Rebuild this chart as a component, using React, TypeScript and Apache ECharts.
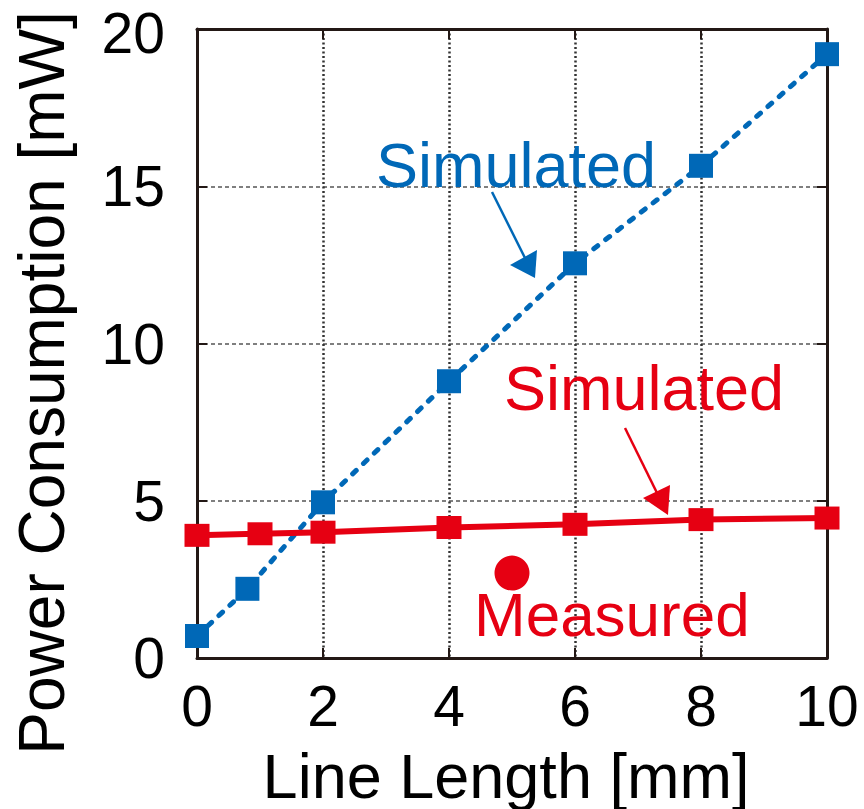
import React, { useEffect, useRef } from "react";
import * as echarts from "echarts";

const blueX = [0, 0.8, 2, 4, 6, 8, 10];
const blueY = [0.7, 2.2, 4.95, 8.8, 12.55, 15.65, 19.2];
const redX = [0, 1, 2, 4, 6, 8, 10];
const redY = [3.9, 3.95, 4.0, 4.15, 4.25, 4.4, 4.45];
const measuredX = [5];
const measuredY = [2.7];
const xTicks = [0, 2, 4, 6, 8, 10];
const yTicks = [0, 5, 10, 15, 20];
const xTitle = "Line Length [mm]";
const yTitle = "Power Consumption [mW]";

const BLUE = "#0068B7";
const RED = "#E60012";
const FONT = "'Liberation Sans', Arial, sans-serif";

export default function App() {
  const ref = useRef<HTMLDivElement>(null);
  useEffect(() => {
    if (!ref.current) return;
    const chart = echarts.init(ref.current, null, { renderer: "svg" });
    const frame = { lineStyle: { color: "#231815", width: 3 } };
    const tick = { inside: true, length: 10, lineStyle: { color: "#231815", width: 2 } };
    const xMin = xTicks[0], xMax = xTicks[xTicks.length - 1];
    const yMin = yTicks[0], yMax = yTicks[yTicks.length - 1];
    const option: any = {
      animation: false,
      backgroundColor: "#ffffff",
      textStyle: { fontFamily: FONT },
      grid: { left: 197, right: 37, top: 29, bottom: 151, outerBoundsMode: "none", containLabel: false },
      xAxis: [
        {
          type: "value", min: xMin, max: xMax, interval: 2, position: "bottom",
          name: xTitle, nameLocation: "middle", nameGap: 86,
          nameTextStyle: { fontSize: 63, color: "#000", fontFamily: FONT, padding: [0, 12, 0, 0] },
          axisLine: { show: true, onZero: false, ...frame },
          axisTick: tick,
          axisLabel: { fontSize: 57, lineHeight: 56, color: "#000", margin: 20, fontFamily: FONT },
          splitLine: { show: true, lineStyle: { color: "#333", width: 2.5, type: [2, 2.5] } },
        },
        {
          type: "value", min: xMin, max: xMax, interval: 2, position: "top",
          axisLine: { show: true, onZero: false, ...frame },
          axisTick: tick, axisLabel: { show: false }, splitLine: { show: false },
        },
      ],
      yAxis: [
        {
          type: "value", min: yMin, max: yMax, interval: 5, position: "left",
          axisLine: { show: true, onZero: false, ...frame },
          axisTick: tick,
          axisLabel: {
            fontSize: 57, lineHeight: 56, color: "#000", margin: 32, fontFamily: FONT,
            formatter: (v: number) => (v === yMax ? `{top|${v}}` : `${v}`),
            rich: { top: { fontSize: 57, lineHeight: 56, color: "#000", fontFamily: FONT, padding: [8, 0, 0, 0] } },
          },
          splitLine: { show: true, lineStyle: { color: "#555", width: 1.5, type: [4, 3] } },
        },
        {
          type: "value", min: yMin, max: yMax, interval: 5, position: "right",
          axisLine: { show: true, onZero: false, ...frame },
          axisTick: tick, axisLabel: { show: false }, splitLine: { show: false },
        },
      ],
      series: [
        {
          type: "line", name: "Simulated (blue)", xAxisIndex: 0, yAxisIndex: 0, clip: false,
          data: blueX.map((x, i) => [x, blueY[i]]),
          symbol: "rect", symbolSize: 24,
          itemStyle: { color: BLUE, opacity: 1 },
          lineStyle: { color: BLUE, width: 5, type: [5, 10], cap: "round" },
          z: 3,
        },
        {
          type: "line", name: "Simulated (red)", xAxisIndex: 0, yAxisIndex: 0, clip: false,
          data: redX.map((x, i) => [x, redY[i]]),
          symbol: "rect", symbolSize: [25, 23],
          itemStyle: { color: RED, opacity: 1 },
          lineStyle: { color: RED, width: 6 },
          z: 4,
        },
        {
          type: "scatter", name: "Measured", xAxisIndex: 0, yAxisIndex: 0, clip: false,
          data: measuredX.map((x, i) => [x, measuredY[i]]),
          symbol: "circle", symbolSize: 35,
          itemStyle: { color: RED, opacity: 1 },
          z: 4,
        },
      ],
      graphic: [
        { type: "text", z: 10, x: 42, y: 383, rotation: Math.PI / 2, style: { text: yTitle, fill: "#000", fontSize: 64, fontFamily: FONT, align: "center", verticalAlign: "middle" } },
        { type: "text", z: 10, style: { text: "Simulated", x: 376, y: 165, fill: BLUE, fontSize: 63, fontFamily: FONT, verticalAlign: "middle" } },
        { type: "line", z: 10, shape: { x1: 492, y1: 192, x2: 526, y2: 260 }, style: { stroke: BLUE, lineWidth: 2.5 } },
        { type: "polygon", z: 10, shape: { points: [[510, 265], [537, 250], [535, 278]] }, style: { fill: BLUE } },
        { type: "text", z: 10, style: { text: "Simulated", x: 504, y: 388, fill: RED, fontSize: 63, fontFamily: FONT, verticalAlign: "middle" } },
        { type: "line", z: 10, shape: { x1: 625, y1: 428, x2: 659, y2: 497 }, style: { stroke: RED, lineWidth: 2.5 } },
        { type: "polygon", z: 10, shape: { points: [[643, 498], [670, 485], [668, 515]] }, style: { fill: RED } },
        { type: "text", z: 10, style: { text: "Measured", x: 474, y: 614, fill: RED, fontSize: 62, fontFamily: FONT, verticalAlign: "middle" } },
      ],
    };
    chart.setOption(option);
    return () => chart.dispose();
  }, []);
  return (
    <div
      ref={ref}
      style={{ position: "fixed", left: 0, top: 0, width: 864, height: 809, background: "#fff" }}
    />
  );
}
